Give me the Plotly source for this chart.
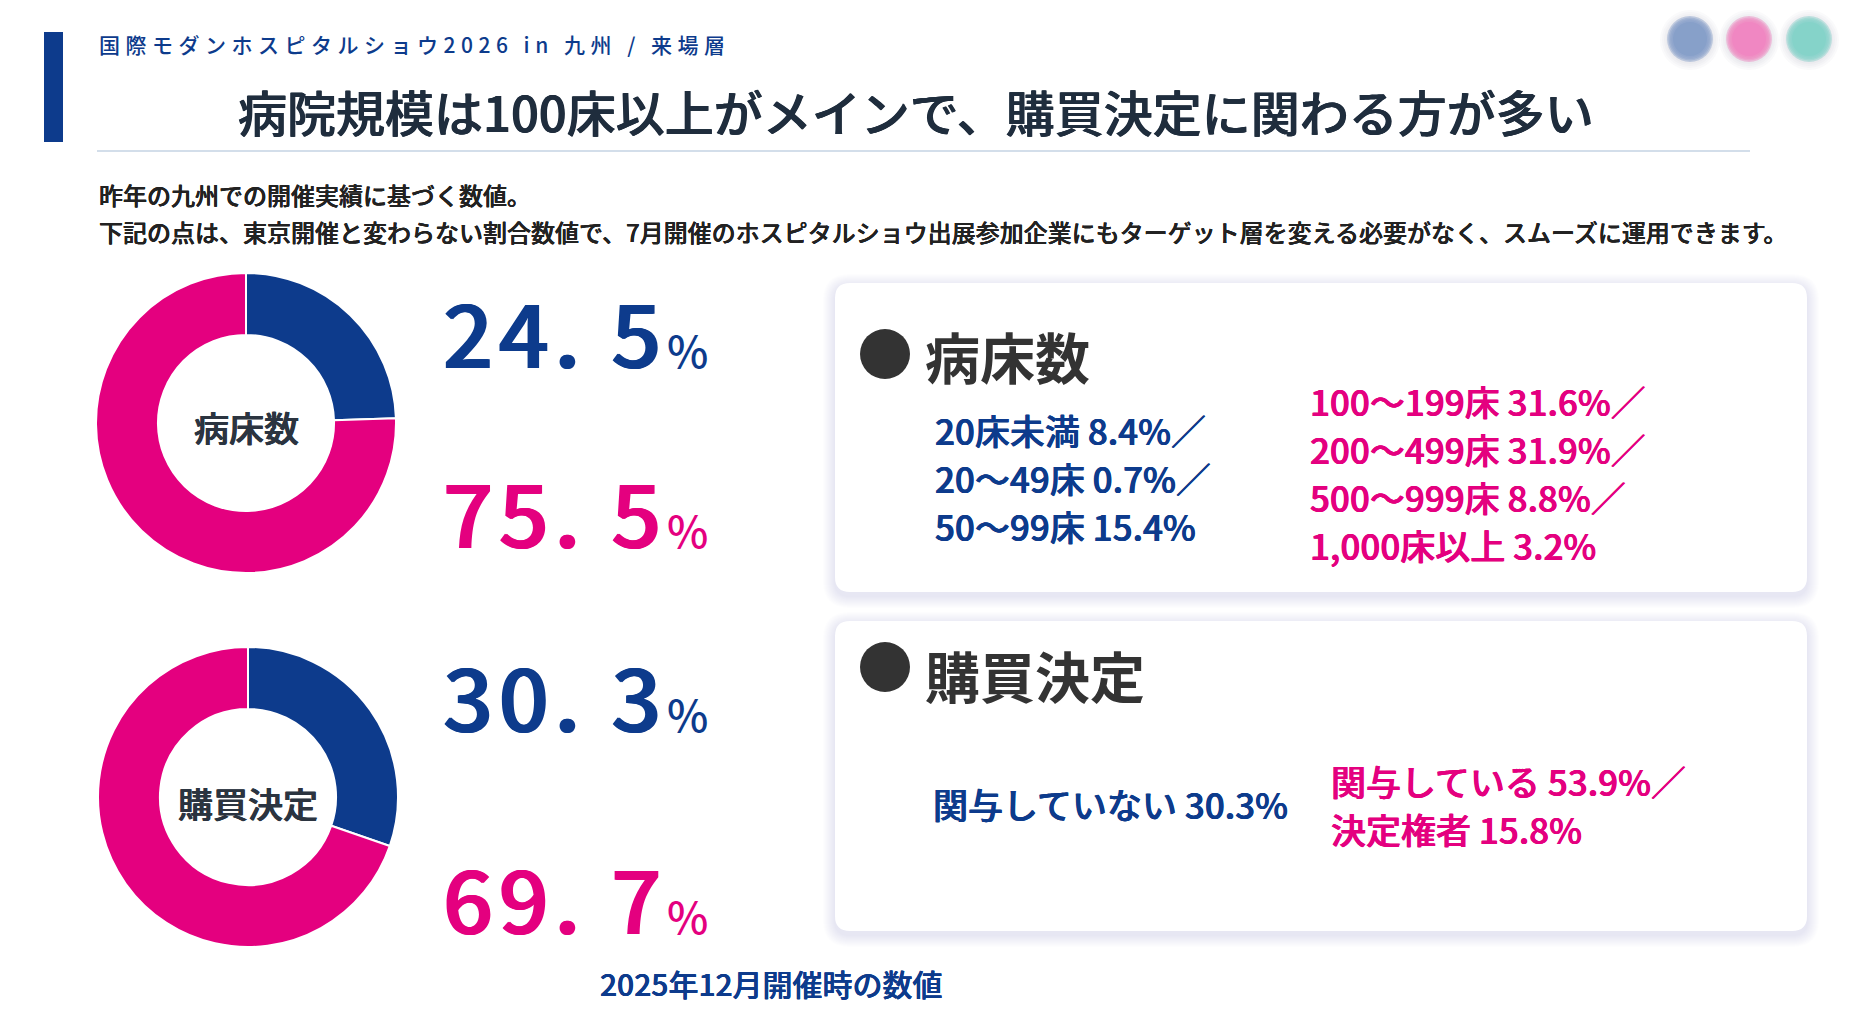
import plotly.graph_objects as go

# ページ座標（ブラウザの余白8pxを含む）で配置する
PAGE_W, PAGE_H = 1851, 1022
OFF = 8
W, H = PAGE_W - 2 * OFF, PAGE_H - 2 * OFF
BLUE = "#0d3b8c"
PINK = "#e4007f"
DARK = "#333333"
FONT = "Noto Sans CJK JP"

# データ
header_label = "国際モダンホスピタルショウ2026 in 九州 / 来場層"
title_text = "病院規模は100床以上がメインで、購買決定に関わる方が多い"
intro_lines = [
    "昨年の九州での開催実績に基づく数値。",
    "下記の点は、東京開催と変わらない割合数値で、7月開催のホスピタルショウ出展参加企業にもターゲット層を変える必要がなく、スムーズに運用できます。",
]
donut_names = ["病床数", "購買決定"]
bed_share = [24.5, 75.5]        # 100床未満 / 100床以上
purchase_share = [30.3, 69.7]   # 関与していない / 関与している
bed_small_labels = ["20床未満", "20～49床", "50～99床"]
bed_small_values = [8.4, 0.7, 15.4]
bed_large_labels = ["100～199床", "200～499床", "500～999床", "1,000床以上"]
bed_large_values = [31.6, 31.9, 8.8, 3.2]
purchase_no_labels = ["関与していない"]
purchase_no_values = [30.3]
purchase_yes_labels = ["関与している", "決定権者"]
purchase_yes_values = [53.9, 15.8]
footnote = "2025年12月開催時の数値"


def rrect(x0, y0, x1, y1, r):
    return (f"M{x0+r},{y0} L{x1-r},{y0} Q{x1},{y0} {x1},{y0+r} L{x1},{y1-r} "
            f"Q{x1},{y1} {x1-r},{y1} L{x0+r},{y1} Q{x0},{y1} {x0},{y1-r} "
            f"L{x0},{y0+r} Q{x0},{y0} {x0+r},{y0} Z")


def ann(x, y, text, size, color, xanchor="left", weight=400, bold=0):
    font = dict(family=FONT, size=size, color=color, weight=weight)
    if bold:
        # 少し太く見せるための同色の影
        font["shadow"] = f"{bold}px 0 0 {color}, -{bold}px 0 0 {color}"
    return dict(x=x, y=y, xref="x", yref="y", text=text, showarrow=False,
                xanchor=xanchor, yanchor="middle", font=font)


fig = go.Figure()

# ドーナツ
donut_boxes = [(96, 273, 396, 573), (98, 647, 398, 947)]
for name, vals, (x0, y0, x1, y1) in zip(donut_names, [bed_share, purchase_share], donut_boxes):
    fig.add_trace(go.Pie(
        values=vals, labels=["a", "b"], hole=0.587, sort=False,
        direction="clockwise", rotation=0, textinfo="none", hoverinfo="skip",
        marker=dict(colors=[BLUE, PINK], line=dict(color="white", width=2)),
        domain=dict(x=[(x0 - OFF) / W, (x1 - OFF) / W],
                    y=[1 - (y1 - OFF) / H, 1 - (y0 - OFF) / H]),
        showlegend=False,
    ))

shapes = []
annotations = []

# ヘッダー
shapes.append(dict(type="rect", x0=44, x1=63, y0=32, y1=142, fillcolor=BLUE, line_width=0))
shapes.append(dict(type="line", x0=97, x1=1750, y0=151, y1=151, line=dict(color="#d3deea", width=2)))
annotations.append(ann(97, 44, f'<span style="letter-spacing:5.5px">{header_label}</span>', 21, BLUE, weight=500))
annotations.append(ann(916, 110, title_text, 49, "#1f2d3d", xanchor="center", weight=500, bold=0.5))
annotations.append(ann(97, 194, intro_lines[0], 24, "#222222", weight=500, bold=0.15))
annotations.append(ann(97, 231, intro_lines[1], 24, "#222222", weight=500, bold=0.15))

# 右上の丸（ぼかし風）
for cx, col in zip([1690, 1749, 1809], ["#87a0c9", "#f087c2", "#85d3c9"]):
    for k in range(5):
        r = 30 - k * 2
        shapes.append(dict(type="circle", x0=cx - r, x1=cx + r, y0=40 - r, y1=40 + r,
                           fillcolor="#a8acb8", opacity=0.06, line_width=0))
    for k in range(5):
        r = 23 - k * 1.5
        shapes.append(dict(type="circle", x0=cx - r, x1=cx + r, y0=39 - r, y1=39 + r,
                           fillcolor=col, opacity=0.45 if k < 4 else 1, line_width=0))

# ドーナツ中央ラベル
annotations.append(ann(246, 426, donut_names[0], 35, "#2b3440", xanchor="center", weight=500, bold=0.5))
annotations.append(ann(248, 802, donut_names[1], 35, "#2b3440", xanchor="center", weight=500, bold=0.5))

# 大きい数値
big_y = [(329, 509), (693, 895)]
for vals, ys in zip([bed_share, purchase_share], big_y):
    for v, y, col in zip(vals, ys, [BLUE, PINK]):
        num = f'{v:.1f}'.replace(".", ". ")
        txt = (f'<span style="letter-spacing:5.5px">{num}</span>'
               f'<span style="font-size:44px;text-shadow:none">%</span>')
        annotations.append(ann(441, y, txt, 88, col, weight=500, bold=1))

# カード
cards = [(835, 283, 1807, 592), (835, 621, 1807, 931)]
for x0, y0, x1, y1 in cards:
    for k in range(12, 0, -1):
        shapes.append(dict(type="path", path=rrect(x0 - k, y0 - k + 3, x1 + k, y1 + k + 4, 15 + k),
                           fillcolor="#7f88a0", opacity=0.016, line_width=0))
    shapes.append(dict(type="path", path=rrect(x0, y0, x1, y1, 15),
                       fillcolor="white", line_width=0))

# 見出し
for cy, ty, text in zip([354, 667], [355, 674], donut_names):
    shapes.append(dict(type="circle", x0=885 - 25, x1=885 + 25, y0=cy - 25, y1=cy + 25,
                       fillcolor=DARK, line_width=0))
    annotations.append(ann(923, ty, text, 55, DARK, weight=700))


def lines(labels, values, x, ys, color):
    for i, (lab, v) in enumerate(zip(labels, values)):
        sep = "／" if i < len(labels) - 1 else ""
        annotations.append(ann(x, ys[i], f"{lab} {v:.1f}%{sep}", 35, color, weight=500, bold=0.4))


lines(bed_small_labels, bed_small_values, 933, [429, 477, 525], BLUE)
lines(bed_large_labels, bed_large_values, 1308, [400, 448, 496, 544], PINK)
lines(purchase_no_labels, purchase_no_values, 931, [803], BLUE)
lines(purchase_yes_labels, purchase_yes_values, 1329, [780, 828], PINK)

annotations.append(ann(771, 983, footnote, 30, BLUE, xanchor="center", weight=500, bold=0.25))

fig.update_layout(
    width=W, height=H, margin=dict(l=0, r=0, t=0, b=0),
    paper_bgcolor="white", plot_bgcolor="white",
    xaxis=dict(range=[OFF, OFF + W], visible=False, fixedrange=True),
    yaxis=dict(range=[OFF + H, OFF], visible=False, fixedrange=True),
    shapes=shapes, annotations=annotations, showlegend=False,
)
fig.write_html("out.html", config={"displayModeBar": False})
